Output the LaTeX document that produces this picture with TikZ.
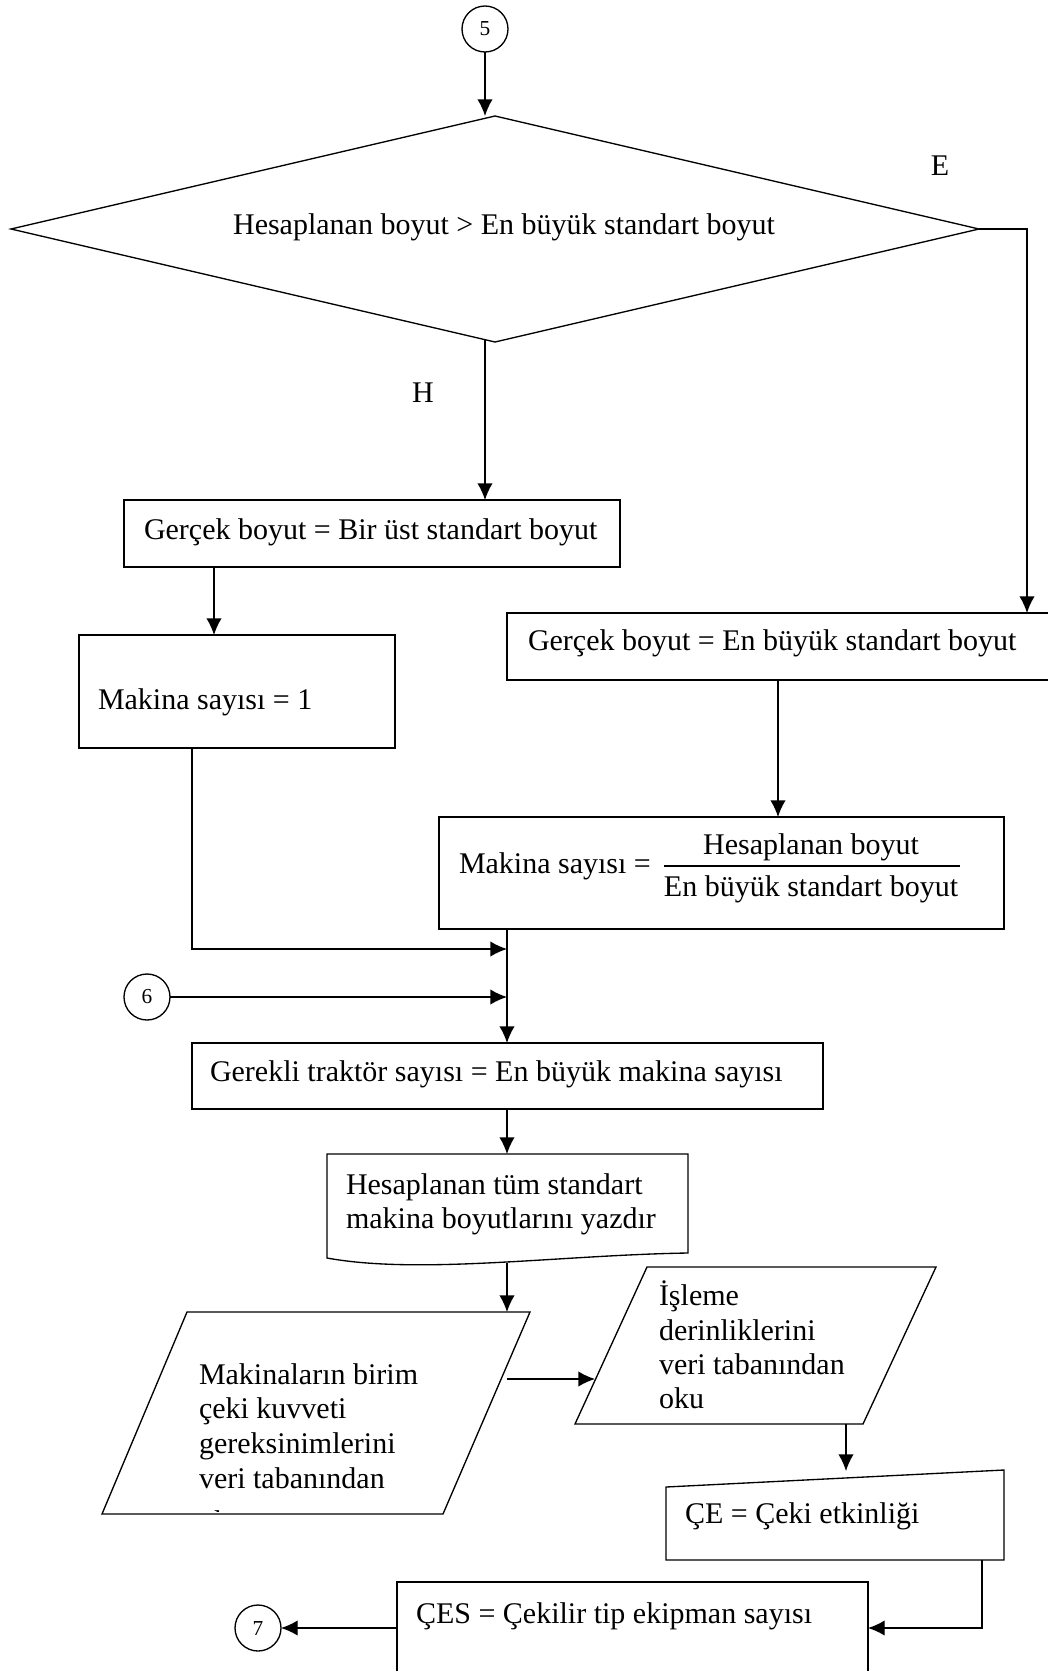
\documentclass[tikz,border=0pt]{standalone}
\usepackage{fontspec}
\setmainfont{Liberation Serif}
\usetikzlibrary{arrows.meta,shapes.geometric}
\begin{document}
\begin{tikzpicture}[x=0.75pt,y=-0.75pt,
  line width=1pt,
  every node/.style={inner sep=0pt, outer sep=0pt},
  box/.style 2 args={draw, rectangle, minimum width=#1*0.75pt, minimum height=#2*0.75pt},
  conn/.style={draw, circle, minimum size=34.5pt, font=\fontsize{16}{18}\selectfont},
  txt/.style={anchor=mid west, font=\fontsize{22.5}{27}\selectfont},
  ctxt/.style={anchor=mid, font=\fontsize{22.5}{27}\selectfont},
  arr/.style={-{Latex[length=12.5pt,width=11.5pt]}},
]
\useasboundingbox (0,0) rectangle (1048,1671);
\clip (0,0) rectangle (1048,1671);

% ---- decision ----
\node[conn] (c5) at (485,29) {5};
\node[draw, diamond, minimum width=726pt, minimum height=169.5pt] (dia) at (495,229) {};
\node[ctxt] (diat) at (504,231) {Hesaplanan boyut > En büyük standart boyut};
\node[ctxt] (lblE) at (940,172) {E};
\node[ctxt] (lblH) at (423,399) {H};

% ---- process boxes ----
\node[box={496}{67}] (b1) at (372,533.5) {};
\node[txt] (b1t) at (144,536) {Gerçek boyut = Bir üst standart boyut};

\node[box={316}{113}] (b3) at (237,691.5) {};
\node[txt] (b3t) at (98,706) {Makina sayısı = 1};

\node[box={542}{67}] (b2) at (778,646.5) {};
\node[txt] (b2t) at (528,647) {Gerçek boyut = En büyük standart boyut};

\node[box={565}{112}] (b4) at (721.5,873) {};
\node[txt] (b4t) at (459,870) {Makina sayısı =};
\node[ctxt] (b4num) at (811,851) {Hesaplanan boyut};
\node[ctxt] (b4den) at (811,893) {En büyük standart boyut};
\draw[line width=0.8pt] (664,866) -- (960,866);

\node[conn] (c6) at (147,997) {6};

\node[box={631}{66}] (b5) at (507.5,1076) {};
\node[txt] (b5t) at (210,1078) {Gerekli traktör sayısı = En büyük makina sayısı};

% ---- document (print) ----
\draw (327,1154) -- (688,1154) -- (688,1253)
  .. controls (560,1255) and (420,1275) .. (327,1258) -- cycle;
\node[txt] (doct1) at (346,1191) {Hesaplanan tüm standart};
\node[txt] (doct2) at (346,1225) {makina boyutlarını yazdır};
\coordinate (docIn) at (507,1154);
\coordinate (docOut) at (507,1263);

% ---- data inputs ----
\draw (187,1312) -- (530,1312) -- (443,1514) -- (102,1514) -- cycle;
\node[txt] (p1t1) at (199,1381) {Makinaların birim};
\node[txt] (p1t2) at (199,1415) {çeki kuvveti};
\node[txt] (p1t3) at (199,1450) {gereksinimlerini};
\node[txt] (p1t4) at (199,1485) {veri tabanından};
\begin{scope}
  \clip (150,1495) rectangle (300,1511);
  \node[txt] (p1t5) at (199,1528) {oku};
\end{scope}
\coordinate (p1In) at (507,1312);
\coordinate (p1Out) at (507,1379);

\draw (647,1267) -- (936,1267) -- (863,1424) -- (575,1424) -- cycle;
\node[txt] (p2t1) at (659,1302) {İşleme};
\node[txt] (p2t2) at (659,1337) {derinliklerini};
\node[txt] (p2t3) at (659,1371) {veri tabanından};
\node[txt] (p2t4) at (659,1405) {oku};
\coordinate (p2In) at (595,1379);
\coordinate (p2Out) at (846,1424);

% ---- manual input ----
\draw (666,1487) -- (1004,1470) -- (1004,1560) -- (666,1560) -- cycle;
\node[txt] (cet) at (685,1520) {ÇE = Çeki etkinliği};
\coordinate (ceIn) at (846,1471);
\coordinate (ceOut) at (982,1560);

\node[box={471}{118}] (b7) at (632.5,1641) {};
\node[txt] (b7t) at (416,1620) {ÇES = Çekilir tip ekipman sayısı};
\node[conn] (c7) at (258,1628) {7};

% ---- connectors ----
\coordinate (dOut) at (485,340);
\coordinate (eBend) at (1027,229);
\coordinate (colS) at (214,0);
\coordinate (colL) at (192,0);
\coordinate (join1) at (507,949);

\draw[arr] (c5.south) -- (c5.south |- dia.north);
\draw[arr] (dOut) -- (b1.north -| dOut);
\draw[arr] (dia.east) -- (eBend) -- (eBend |- b2.north);
\draw[arr] (b1.south -| colS) -- (b3.north -| colS);
\draw[arr] (b2.south) -- (b2.south |- b4.north);
\draw[arr] (b3.south -| colL) |- (join1);
\draw[arr] (c6.east) -- (c6.east -| join1);
\draw[arr] (b4.south -| join1) -- (b5.north -| join1);
\draw[arr] (b5.south -| join1) -- (docIn);
\draw[arr] (docOut) -- (p1In);
\draw[arr] (p1Out) -- (p2In);
\draw[arr] (p2Out) -- (ceIn);
\draw[arr] (ceOut) |- (b7.east |- c7);
\draw[arr] (b7.west |- c7) -- (c7.east);
\end{tikzpicture}
\end{document}
